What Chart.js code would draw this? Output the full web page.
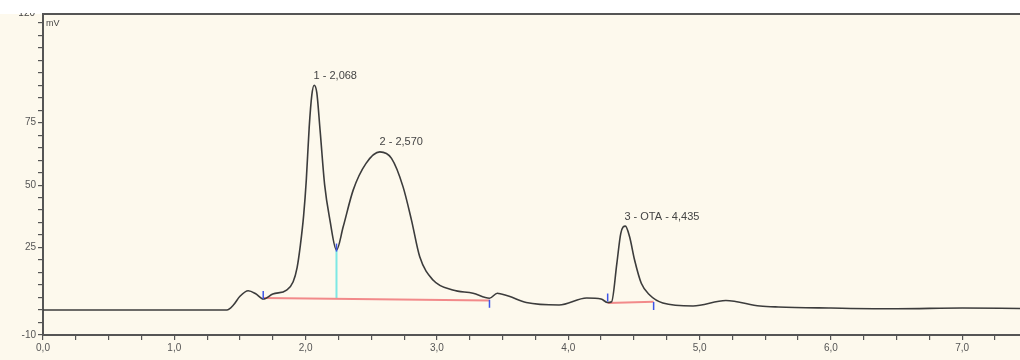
<!DOCTYPE html>
<html>
<head>
<meta charset="utf-8">
<script src="https://cdn.jsdelivr.net/npm/chart.js@4.4.0/dist/chart.umd.min.js"></script>
<style>
  html, body { margin: 0; padding: 0; background: #ffffff; }
  #wrap { width: 1020px; height: 360px; }
</style>
</head>
<body>
<div id="wrap"><canvas id="cromatograma" width="1020" height="360"></canvas></div>
<script>
const tempos = [0, 1.40, 1.45, 1.50, 1.563, 1.62, 1.677, 1.75, 1.855, 1.905, 1.935, 1.96, 1.985, 2.005, 2.027, 2.047, 2.065,
  2.085, 2.11, 2.145, 2.185, 2.235, 2.286, 2.362, 2.46, 2.565, 2.654, 2.742, 2.806, 2.869, 2.97, 3.12, 3.275, 3.40, 3.46,
  3.49, 3.55, 3.68, 3.93, 4.14, 4.25, 4.30, 4.33, 4.37, 4.40, 4.435, 4.467, 4.505, 4.556, 4.62, 4.72, 4.95, 5.2, 5.46,
  5.6, 6.0, 6.5, 7.0, 7.44];
const sinal = [0, 0, 2, 5.5, 7.7, 6.5, 4.4, 6.4, 8, 11.3, 17, 26, 38, 52, 73, 86, 90,
  87, 72, 50, 36, 24, 33.3, 48, 58.7, 63.3, 60.7, 49.3, 36, 21.3, 12, 8, 6.7, 4.7, 6.7,
  6.4, 5.5, 3, 2, 4.8, 4.4, 3, 3.3, 18.7, 30.7, 33.6, 29.3, 20, 10.7, 6, 2.8, 1.6, 3.8, 1.6,
  1.2, 0.8, 0.5, 0.8, 0.6];

// picos identificados
const picosTempo = [2.068, 2.570, 4.435];
const picosAltura = [90, 63.3, 33.6];
const picosNome = ["1 - 2,068", "2 - 2,570", "3 - OTA - 4,435"];

// linhas de base da integração
const base1Tempo = [1.677, 3.40];
const base1Valor = [4.8, 3.8];
const base2Tempo = [4.30, 4.65];
const base2Valor = [2.8, 3.3];

// linha de corte entre os picos 1 e 2
const corteTempo = [2.235, 2.235];
const corteValor = [24, 4.5];

// marcas de inicio/fim de pico
const marcasTempo = [1.677, 2.235, 3.40, 4.30, 4.65];
const marcasValor = [6, 25, 2.5, 5, 1.6];

// eixos
const yRotulos = [-10, 25, 50, 75];
const yTopo = 120;

const pares = (xs, ys) => xs.map((x, i) => ({ x: x, y: ys[i] }));

const fundoCreme = "#fdf9ed";
const corEixo = "#555555";

const pluginCromatograma = {
  id: "cromatograma",
  beforeDraw(chart) {
    const ctx = chart.ctx;
    ctx.save();
    ctx.fillStyle = "#ffffff";
    ctx.fillRect(0, 0, chart.width, chart.height);
    ctx.fillStyle = fundoCreme;
    ctx.fillRect(0, chart.chartArea.top, chart.width, chart.height - chart.chartArea.top);
    ctx.restore();
  },
  afterDraw(chart) {
    const ctx = chart.ctx;
    const xs = chart.scales.x;
    const ys = chart.scales.y;
    const area = chart.chartArea;
    ctx.save();

    // rótulos dos picos
    ctx.fillStyle = "#444444";
    ctx.font = "11px 'Liberation Sans', Arial, sans-serif";
    ctx.textAlign = "left";
    ctx.textBaseline = "bottom";
    picosNome.forEach((nome, i) => {
      ctx.fillText(nome, xs.getPixelForValue(picosTempo[i]) - 1, ys.getPixelForValue(picosAltura[i]) - 4);
    });

    // unidade
    ctx.font = "9px 'Liberation Sans', Arial, sans-serif";
    ctx.textBaseline = "top";
    ctx.fillText("mV", area.left + 3, area.top + 5);

    // rótulo 120 cortado no topo
    ctx.font = "10px 'Liberation Sans', Arial, sans-serif";
    ctx.textAlign = "right";
    ctx.textBaseline = "middle";
    ctx.fillText(String(yTopo), area.left - 8, ys.getPixelForValue(yTopo) + 3);
    ctx.fillStyle = "#ffffff";
    ctx.fillRect(0, 0, chart.width, area.top - 1);

    // borda superior
    ctx.strokeStyle = corEixo;
    ctx.lineWidth = 2;
    ctx.beginPath();
    ctx.moveTo(area.left - 1, area.top);
    ctx.lineTo(area.right, area.top);
    ctx.stroke();
    ctx.restore();
  }
};

new Chart(document.getElementById("cromatograma").getContext("2d"), {
  type: "line",
  data: {
    datasets: [
      {
        label: "Sinal",
        data: pares(tempos, sinal),
        borderColor: "#3c3c3c",
        borderWidth: 1.6,
        pointRadius: 0,
        cubicInterpolationMode: "monotone",
        fill: false,
        order: 1
      },
      {
        label: "Base 1",
        data: pares(base1Tempo, base1Valor),
        borderColor: "#f28a8a",
        borderWidth: 2,
        pointRadius: 0,
        fill: false,
        order: 3
      },
      {
        label: "Base 2",
        data: pares(base2Tempo, base2Valor),
        borderColor: "#f28a8a",
        borderWidth: 2,
        pointRadius: 0,
        fill: false,
        order: 3
      },
      {
        label: "Corte",
        data: pares(corteTempo, corteValor),
        borderColor: "#7de8e4",
        borderWidth: 2,
        pointRadius: 0,
        fill: false,
        order: 3
      },
      {
        label: "Marcas",
        data: pares(marcasTempo, marcasValor),
        showLine: false,
        pointStyle: "line",
        rotation: 90,
        pointRadius: 4,
        borderColor: "#3d55e8",
        borderWidth: 1.5,
        order: 0
      }
    ]
  },
  options: {
    responsive: false,
    animation: false,
    layout: { autoPadding: false, padding: { top: 14, right: 0, left: 0, bottom: 0 } },
    plugins: {
      legend: { display: false },
      tooltip: { enabled: false }
    },
    scales: {
      x: {
        type: "linear",
        min: 0,
        max: 7.44,
        afterFit: (s) => { s.height = 25; },
        border: { display: true, color: corEixo, width: 2 },
        grid: { drawOnChartArea: false, drawTicks: true, tickLength: 5, color: corEixo, lineWidth: 1.2 },
        ticks: {
          stepSize: 0.25,
          includeBounds: false,
          autoSkip: false,
          maxRotation: 0,
          padding: 2,
          color: "#555555",
          font: { size: 10, family: "'Liberation Sans', Arial, sans-serif" },
          callback: (v) => Math.abs(v - Math.round(v)) < 1e-6 ? Number(v).toFixed(1).replace(".", ",") : ""
        }
      },
      y: {
        type: "linear",
        min: -10,
        max: 118.5,
        afterFit: (s) => { s.width = 43; },
        border: { display: true, color: corEixo, width: 2 },
        grid: { drawOnChartArea: false, drawTicks: true, tickLength: 5, color: corEixo, lineWidth: 1.2 },
        ticks: {
          stepSize: 5,
          includeBounds: false,
          autoSkip: false,
          padding: 2,
          color: "#555555",
          font: { size: 10, family: "'Liberation Sans', Arial, sans-serif" },
          callback: (v) => yRotulos.includes(Math.round(v)) ? String(Math.round(v)) : ""
        }
      }
    }
  },
  plugins: [pluginCromatograma]
});
</script>
</body>
</html>
